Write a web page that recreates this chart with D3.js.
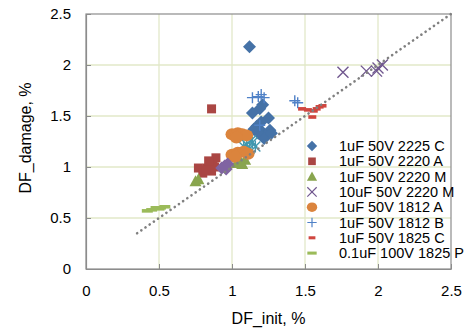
<!DOCTYPE html>
<html>
<head>
<meta charset="utf-8">
<script src="https://cdn.jsdelivr.net/npm/d3@7"></script>
<style>
  body { margin: 0; background: #fff; }
  text { font-family: Arial, "Liberation Sans", sans-serif; fill: #000; }
</style>
</head>
<body>
<svg id="chart" width="468" height="331"></svg>
<script>
// tick values
const xTicks = [0, 0.5, 1, 1.5, 2, 2.5];
const yTicks = [0, 0.5, 1, 1.5, 2, 2.5];
const tickLabels = ['0', '0.5', '1', '1.5', '2', '2.5'];

// series, [DF_init, DF_damage]
const c2225 = [[1.12, 2.18], [1.21, 1.61], [1.19, 1.57], [1.14, 1.53], [1.25, 1.48],
               [1.17, 1.40], [1.21, 1.34], [1.26, 1.36], [1.23, 1.31], [1.18, 1.33], [1.15, 1.37],
               [1.22, 1.28], [1.27, 1.33], [1.20, 1.44]];
const a2220 = [[0.86, 1.57], [0.77, 0.99], [0.80, 0.94], [0.83, 0.99], [0.86, 0.96], [0.87, 1.03],
               [0.89, 1.09], [0.85, 1.02], [0.82, 0.97], [0.88, 1.00], [0.84, 1.06]];
const m2220 = [[0.75, 0.86], [0.77, 0.88], [1.03, 1.04], [1.06, 1.05], [1.09, 1.07], [1.07, 1.03]];
const m2220_10u = [[1.76, 1.93], [1.92, 1.94], [1.99, 1.94], [2.03, 2.00], [2.00, 1.97]];
const unlabeledStar = [[1.10, 1.22], [1.14, 1.24], [1.16, 1.20], [1.12, 1.18], [1.08, 1.20], [1.13, 1.26]];
const a1812 = [[1.00, 1.32], [1.04, 1.33], [1.07, 1.32], [1.10, 1.31], [1.03, 1.29],
               [1.00, 1.12], [1.04, 1.14], [1.08, 1.15], [1.11, 1.13], [1.02, 1.10]];
const b1812 = [[1.18, 1.69], [1.14, 1.68], [1.20, 1.71], [1.22, 1.68], [1.19, 1.41], [1.43, 1.65], [1.45, 1.63]];
const c1825 = [[1.48, 1.57], [1.52, 1.56], [1.55, 1.49], [1.56, 1.55], [1.58, 1.57], [1.60, 1.59], [1.62, 1.60]];
const p1825 = [[0.42, 0.57], [0.45, 0.58], [0.48, 0.60], [0.51, 0.60], [0.54, 0.61], [0.50, 0.59]];
const unlabeledPurple = [[0.93, 0.99], [0.95, 1.01], [0.97, 1.03], [0.96, 0.98]];

const trend = [[0.35, 0.35], [2.5, 2.5]];

const series = [
  { name: '1uF 50V 2225 C', data: c2225, marker: 'diamond', color: '#4572a7' },
  { name: '1uF 50V 2220 A', data: a2220, marker: 'square', color: '#aa4643' },
  { name: '1uF 50V 2220 M', data: m2220, marker: 'triangle', color: '#89a54e' },
  { name: '10uF 50V 2220 M', data: m2220_10u, marker: 'x', color: '#71588f' },
  { name: null, data: unlabeledStar, marker: 'star', color: '#4198af' },
  { name: '1uF 50V 1812 A', data: a1812, marker: 'circle', color: '#db843d' },
  { name: '1uF 50V 1812 B', data: b1812, marker: 'plus', color: '#4f81c7' },
  { name: '1uF 50V 1825 C', data: c1825, marker: 'dash', color: '#d0463f' },
  { name: '0.1uF 100V 1825 P', data: p1825, marker: 'longdash', color: '#9bbb59' },
  { name: null, data: unlabeledPurple, marker: 'diamond', color: '#8064a2' }
];

const margin = { top: 14, right: 17, bottom: 62, left: 86 };
const svg = d3.select('#chart');
const width = 468 - margin.left - margin.right;
const height = 331 - margin.top - margin.bottom;

const x = d3.scaleLinear().domain([0, 2.5]).range([0, width]);
const y = d3.scaleLinear().domain([0, 2.5]).range([height, 0]);

const g = svg.append('g').attr('transform', 'translate(' + margin.left + ',' + margin.top + ')');

// grid
g.append('g').selectAll('line').data(xTicks.slice(1, -1)).enter().append('line')
  .attr('x1', d => x(d)).attr('x2', d => x(d)).attr('y1', 0).attr('y2', height)
  .attr('stroke', '#e2e8c9').attr('stroke-width', 1.3);
g.append('g').selectAll('line').data(yTicks.slice(1, -1)).enter().append('line')
  .attr('y1', d => y(d)).attr('y2', d => y(d)).attr('x1', 0).attr('x2', width)
  .attr('stroke', '#e2e8c9').attr('stroke-width', 1.3);

// frame
g.append('rect').attr('width', width).attr('height', height)
  .attr('fill', 'none').attr('stroke', '#8c8c8c').attr('stroke-width', 1.2);

// axes
const xAxis = g.append('g').attr('transform', 'translate(0,' + height + ')')
  .call(d3.axisBottom(x).tickValues(xTicks).tickFormat((d, i) => tickLabels[i])
    .tickSizeInner(-5).tickSizeOuter(0).tickPadding(16));
const yAxis = g.append('g')
  .call(d3.axisLeft(y).tickValues(yTicks).tickFormat((d, i) => tickLabels[i])
    .tickSizeInner(-5).tickSizeOuter(0).tickPadding(15));
[xAxis, yAxis].forEach(a => {
  a.select('.domain').attr('stroke', '#8c8c8c').attr('stroke-width', 1.2);
  a.selectAll('.tick line').attr('stroke', '#8c8c8c');
  a.selectAll('.tick text').style('font-size', '15px').attr('fill', '#000');
});

// marker shapes
function markerPath(type) {
  switch (type) {
    case 'diamond': return 'M0,-6.5L6.5,0L0,6.5L-6.5,0Z';
    case 'square': return 'M-4.5,-4.5H4.5V4.5H-4.5Z';
    case 'triangle': return 'M0,-6L6,5H-6Z';
    case 'x': return 'M-5.5,-5.5L5.5,5.5M-5.5,5.5L5.5,-5.5';
    case 'plus': return 'M-5.5,0H5.5M0,-5.5V5.5';
    case 'star': return 'M-5,-5L5,5M-5,5L5,-5M0,-6V6';
    case 'dash': return 'M-4,-1.8H4V1.8H-4Z';
    case 'longdash': return 'M-5.5,-1.8H5.5V1.8H-5.5Z';
  }
}
function drawMarker(sel, s) {
  if (s.marker === 'circle') {
    sel.append('ellipse').attr('rx', 6.5).attr('ry', 6).attr('fill', s.color);
  } else if (['x', 'plus', 'star'].includes(s.marker)) {
    sel.append('path').attr('d', markerPath(s.marker)).attr('fill', 'none')
      .attr('stroke', s.color).attr('stroke-width', 1.4);
  } else {
    sel.append('path').attr('d', markerPath(s.marker)).attr('fill', s.color);
  }
}

series.forEach(s => {
  g.append('g').selectAll('g').data(s.data).enter().append('g')
    .attr('transform', d => 'translate(' + x(d[0]) + ',' + y(d[1]) + ')')
    .each(function () { drawMarker(d3.select(this), s); });
});

// trend line
g.append('path')
  .attr('d', d3.line().x(d => x(d[0])).y(d => y(d[1]))(trend))
  .attr('fill', 'none').attr('stroke', '#808080').attr('stroke-width', 2.6)
  .attr('stroke-linecap', 'round').attr('stroke-dasharray', '0.1,5');

// legend
const legend = svg.append('g').attr('transform', 'translate(312,146)');
const labeled = series.filter(s => s.name);
const item = legend.selectAll('g').data(labeled).enter().append('g')
  .attr('transform', (d, i) => 'translate(0,' + (i * 15.3) + ')');
item.each(function (s) {
  const m = d3.select(this).append('g').attr('transform', s.marker === 'circle' || s.marker === 'diamond' ? 'scale(0.8)' : 'scale(0.85)');
  drawMarker(m, s);
});
item.append('text').attr('x', 27).attr('y', 5).style('font-size', '14.5px').text(d => d.name);

// axis titles
svg.append('text').attr('x', margin.left + width / 2).attr('y', 324)
  .attr('text-anchor', 'middle').style('font-size', '16px').text('DF_init, %');
svg.append('text').attr('transform', 'translate(31,138) rotate(-90)')
  .attr('text-anchor', 'middle').style('font-size', '16px').text('DF_damage, %');
</script>
</body>
</html>
